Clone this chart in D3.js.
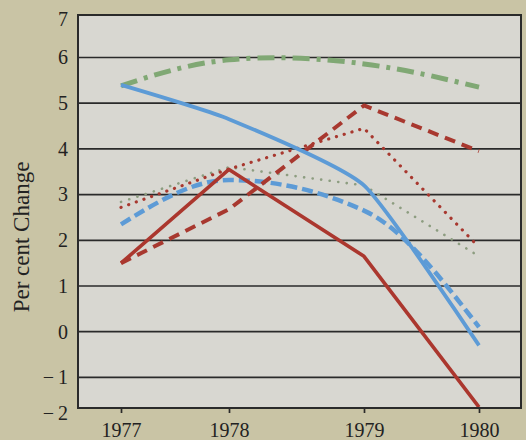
<script src="https://d3js.org/d3.v7.min.js"></script>
<style>
    body { margin: 0; background: #c9c4a5; }
    text { font-family: "Liberation Serif", "Times New Roman", serif; fill: #222; }
</style>
<div id="chart"></div>
<script>
    // data
    var years = [1977, 1978, 1979, 1980];
    var yTicks = [-2, -1, 0, 1, 2, 3, 4, 5, 6, 7];
    var gridValues = [-1, 0, 1, 2, 3, 4, 5, 6];
    var blueSolid = [5.4, 4.65, 3.2, -0.3];
    var blueDashed = [2.35, 3.32, 2.65, 0.1];
    var redSolid = [1.5, 3.55, 1.65, -1.65];
    var redDashed = [1.5, 2.68, 4.95, 3.95];
    var redDotted = [2.72, 3.56, 4.45, 1.85];
    var greenDotted = [2.84, 3.6, 3.2, 1.65];
    var greenDashDot = [5.38, 5.95, 5.86, 5.35];

    var width = 526, height = 440;
    var plotLeft = 78, plotRight = 521, plotTop = 15, plotBottom = 408;

    var svg = d3.select("#chart").append("svg")
        .attr("width", width)
        .attr("height", height)
        .style("display", "block");

    svg.append("rect")
        .attr("width", width)
        .attr("height", height)
        .attr("fill", "#c9c4a5");

    // the original spacing of the years is uneven, so a piecewise scale
    var x = d3.scaleLinear()
        .domain(years)
        .range([121, 229, 364, 479]);
    var y = d3.scaleLinear()
        .domain([-1.67, 6.93])
        .range([plotBottom, plotTop])
        .clamp(true);

    svg.append("clipPath").attr("id", "plot")
        .append("rect")
        .attr("x", plotLeft).attr("y", plotTop)
        .attr("width", plotRight - plotLeft).attr("height", plotBottom - plotTop);

    svg.append("rect")
        .attr("x", plotLeft).attr("y", plotTop)
        .attr("width", plotRight - plotLeft).attr("height", plotBottom - plotTop)
        .attr("fill", "#d8d7d1");

    // grid
    svg.selectAll(".grid")
        .data(gridValues)
        .enter()
        .append("line")
        .attr("x1", plotLeft).attr("x2", plotRight)
        .attr("y1", function (d) { return y(d); })
        .attr("y2", function (d) { return y(d); })
        .style("stroke", "#2a2a2a")
        .style("stroke-width", 1.7);

    // axes
    var yAxis = svg.append("g")
        .attr("transform", "translate(" + (plotLeft - 10) + ",0)")
        .call(d3.axisLeft(y).tickValues(yTicks).tickSize(0)
            .tickFormat(function (d) { return d < 0 ? "\u2212\u2009" + (-d) : d; }));
    yAxis.select(".domain").remove();
    yAxis.selectAll("text")
        .attr("x", 0)
        .style("font-size", "20px")
        .style("font-family", "Liberation Serif, serif")
        .attr("fill", "#222")
        .attr("dy", function (d) { return d == 7 ? "0.5em" : d == -2 ? "0.55em" : "0.32em"; });

    var xAxis = svg.append("g")
        .attr("transform", "translate(0," + plotBottom + ")")
        .call(d3.axisBottom(x).tickValues(years).tickSize(5).tickPadding(10)
            .tickFormat(d3.format("d")));
    xAxis.select(".domain").remove();
    xAxis.selectAll("line").style("stroke", "#2a2a2a").style("stroke-width", 1.7);
    xAxis.selectAll("text")
        .style("font-size", "20px")
        .style("font-family", "Liberation Serif, serif")
        .attr("fill", "#222");

    svg.append("text")
        .text("Per cent Change")
        .attr("transform", "translate(29,237) rotate(-90)")
        .attr("text-anchor", "middle")
        .style("font-size", "23px");

    // series
    var series = [
        { values: greenDotted, color: "#8d9d80", width: 2.6, dash: "0.1,8.5", cap: "round", curve: d3.curveLinear },
        { values: redDotted, color: "#a8382f", width: 3.2, dash: "0.1,8", cap: "round", curve: d3.curveLinear },
        { values: blueDashed, color: "#5d9bd6", width: 4.5, dash: "11,5", cap: "butt", curve: d3.curveMonotoneX },
        { values: redDashed, color: "#a8382f", width: 4, dash: "11,7", cap: "butt", curve: d3.curveLinear },
        { values: greenDashDot, color: "#80a874", width: 5, dash: "17,7,4,7", cap: "butt", curve: d3.curveNatural },
        { values: blueSolid, color: "#5d9bd6", width: 3.8, dash: null, cap: "butt", curve: d3.curveCardinal.tension(0.5) },
        { values: redSolid, color: "#ab372e", width: 3.6, dash: null, cap: "butt", curve: d3.curveLinear }
    ];

    var lines = svg.append("g").attr("clip-path", "url(#plot)");
    series.forEach(function (s) {
        var line = d3.line()
            .x(function (d, i) { return x(years[i]); })
            .y(function (d) { return y(d); })
            .curve(s.curve);
        lines.append("path")
            .attr("d", line(s.values))
            .style("fill", "none")
            .style("stroke", s.color)
            .style("stroke-width", s.width)
            .style("stroke-dasharray", s.dash)
            .style("stroke-linecap", s.cap)
            .style("stroke-linejoin", "round");
    });

    // frame
    svg.append("rect")
        .attr("x", plotLeft).attr("y", plotTop)
        .attr("width", plotRight - plotLeft).attr("height", plotBottom - plotTop)
        .style("fill", "none")
        .style("stroke", "#2a2a2a")
        .style("stroke-width", 2);
</script>
